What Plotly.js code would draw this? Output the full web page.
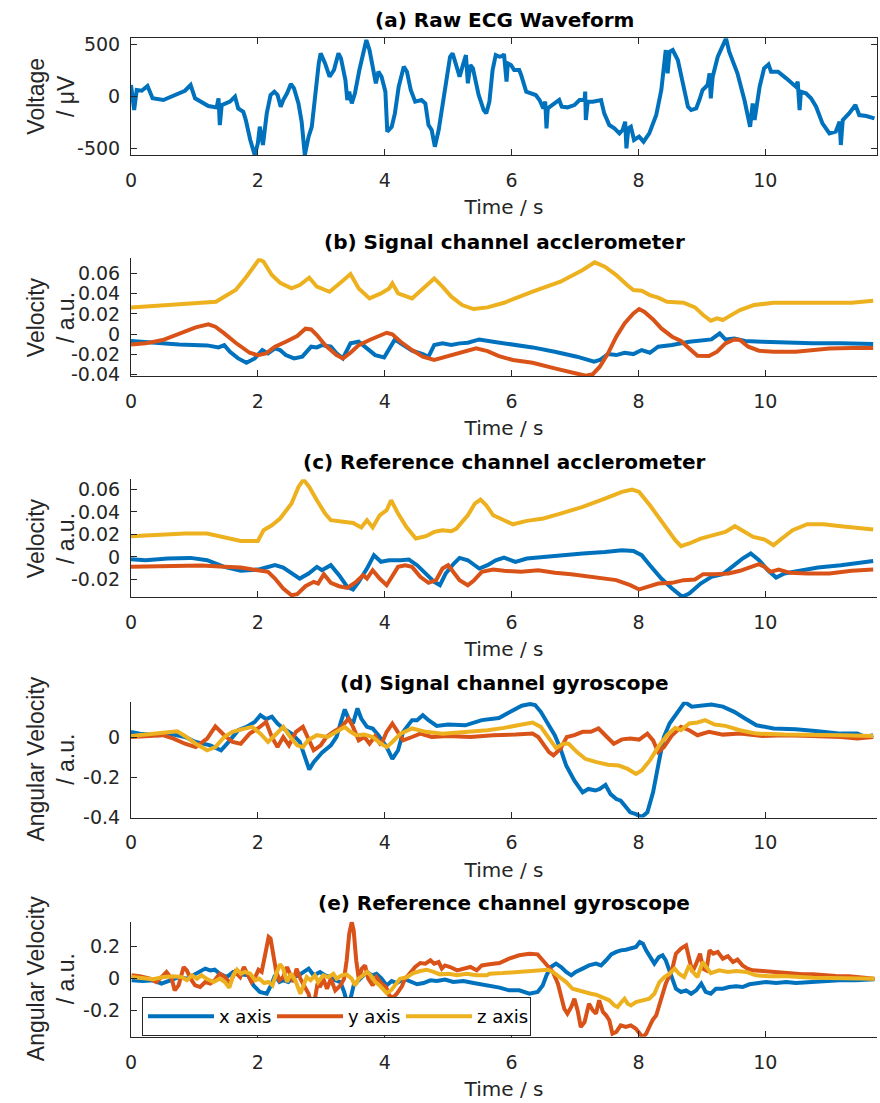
<!DOCTYPE html>
<html>
<head>
<meta charset="utf-8">
<script src="https://cdn.plot.ly/plotly-3.0.1.min.js"></script>
<style>
  html, body { margin: 0; padding: 0; background: #ffffff; }
  #chart { width: 880px; height: 1103px; }
</style>
</head>
<body>
<div id="chart"></div>
<script>
// ---------------- DATA (time in s, value) ----------------
const panelTitles = [
  "(a) Raw ECG Waveform",
  "(b) Signal channel acclerometer",
  "(c) Reference channel acclerometer",
  "(d) Signal channel gyroscope",
  "(e) Reference channel gyroscope"
];
const yLabels = ["Voltage<br>/ \u03bcV", "Velocity<br>/ a.u.", "Velocity<br>/ a.u.", "Angular Velocity<br>/ a.u.", "Angular Velocity<br>/ a.u."];
const seriesNames = ["x axis", "y axis", "z axis"];
const xTickVals = [0, 2, 4, 6, 8, 10];
const xTickText = ["0", "2", "4", "6", "8", "10"];
const yTickVals = [[-500, 0, 500], [-0.04, -0.02, 0, 0.02, 0.04, 0.06], [-0.02, 0, 0.02, 0.04, 0.06], [-0.4, -0.2, 0], [-0.2, 0, 0.2]];
const yTickText = [["-500", "0", "500"], ["-0.04", "-0.02", "0", "0.02", "0.04", "0.06"], ["-0.02", "0", "0.02", "0.04", "0.06"], ["-0.4", "-0.2", "0"], ["-0.2", "0", "0.2"]];

// (a) raw ECG
const ecg = [[0,106],[0.05,-135],[0.09,58],[0.17,51],[0.26,96],[0.34,-22],[0.51,-38],[0.80,42],[0.85,51],[0.94,106],[1.01,-22],[1.22,-96],[1.35,-109],[1.38,-22],[1.40,-279],[1.43,-87],[1.56,-54],[1.64,-6],[1.69,-119],[1.77,-151],[1.81,-231],[1.88,-423],[1.95,-567],[2.00,-455],[2.03,-295],[2.08,-471],[2.14,-167],[2.20,10],[2.26,42],[2.31,10],[2.36,-103],[2.40,-38],[2.46,26],[2.52,115],[2.57,74],[2.64,-71],[2.69,-247],[2.74,-567],[2.80,-391],[2.85,-295],[2.90,-6],[2.96,314],[2.99,410],[3.06,314],[3.13,186],[3.20,250],[3.27,410],[3.31,362],[3.38,154],[3.41,-38],[3.44,42],[3.48,-71],[3.53,26],[3.60,250],[3.71,538],[3.76,442],[3.83,218],[3.86,122],[3.90,234],[3.95,186],[4.01,42],[4.04,-343],[4.11,-295],[4.16,-167],[4.22,90],[4.30,282],[4.35,234],[4.41,58],[4.48,-54],[4.58,-38],[4.64,-71],[4.69,-279],[4.74,-327],[4.79,-487],[4.85,-327],[4.93,-6],[5.03,378],[5.07,410],[5.14,250],[5.18,186],[5.24,314],[5.28,394],[5.31,122],[5.35,298],[5.39,266],[5.48,10],[5.56,-135],[5.60,-167],[5.65,-54],[5.70,250],[5.75,394],[5.81,378],[5.86,385],[5.88,404],[5.92,138],[5.94,314],[5.99,298],[6.04,250],[6.12,250],[6.15,202],[6.23,42],[6.30,26],[6.38,10],[6.44,-38],[6.50,-119],[6.53,-54],[6.55,-311],[6.57,-119],[6.65,-87],[6.75,-38],[6.79,-103],[6.88,-109],[6.99,-87],[7.07,-38],[7.15,-38],[7.16,42],[7.17,-231],[7.20,-54],[7.28,-54],[7.36,-38],[7.41,-38],[7.46,-167],[7.54,-279],[7.62,-311],[7.70,-359],[7.75,-327],[7.79,-247],[7.81,-503],[7.84,-311],[7.88,-295],[7.93,-423],[8.01,-391],[8.08,-439],[8.17,-359],[8.28,-183],[8.36,58],[8.41,314],[8.43,442],[8.46,218],[8.49,426],[8.54,442],[8.62,346],[8.70,122],[8.78,-103],[8.83,-135],[8.91,-119],[8.96,-38],[9.01,58],[9.09,106],[9.12,218],[9.14,-22],[9.17,186],[9.25,378],[9.33,490],[9.38,554],[9.43,426],[9.56,218],[9.67,-38],[9.72,-199],[9.76,-295],[9.80,-71],[9.83,-231],[9.85,-151],[9.91,90],[9.98,266],[10.05,304],[10.09,234],[10.20,234],[10.33,170],[10.43,122],[10.48,90],[10.51,138],[10.54,-135],[10.56,42],[10.64,26],[10.72,-22],[10.80,-103],[10.90,-263],[11.01,-359],[11.11,-343],[11.17,-247],[11.19,-471],[11.22,-231],[11.32,-167],[11.42,-87],[11.48,-183],[11.59,-192],[11.72,-215]];

// (b) signal channel accelerometer
const sigAccX = [[0,-0.0069],[0.32,-0.0086],[0.76,-0.0102],[1.20,-0.0112],[1.38,-0.0132],[1.47,-0.0109],[1.56,-0.0175],[1.69,-0.0241],[1.82,-0.0284],[1.95,-0.0241],[2.07,-0.0158],[2.16,-0.0191],[2.27,-0.0142],[2.35,-0.0158],[2.44,-0.0208],[2.57,-0.0241],[2.70,-0.0224],[2.84,-0.0125],[2.93,-0.0132],[3.01,-0.0109],[3.15,-0.0125],[3.24,-0.0191],[3.34,-0.0241],[3.46,-0.0092],[3.59,-0.0076],[3.72,-0.0142],[3.85,-0.0208],[3.99,-0.0231],[4.10,-0.0125],[4.16,-0.0053],[4.25,-0.0092],[4.43,-0.0165],[4.60,-0.0198],[4.69,-0.0224],[4.78,-0.0109],[4.91,-0.0092],[5.05,-0.0109],[5.18,-0.0092],[5.31,-0.0086],[5.49,-0.0053],[5.71,-0.0076],[5.97,-0.0099],[6.33,-0.0132],[6.68,-0.0175],[7.03,-0.0224],[7.30,-0.0274],[7.39,-0.0257],[7.52,-0.0198],[7.65,-0.0208],[7.78,-0.0185],[7.92,-0.0198],[8.05,-0.0158],[8.18,-0.0185],[8.31,-0.0125],[8.53,-0.0109],[8.80,-0.0076],[9.02,-0.0059],[9.15,-0.0053],[9.28,0.0007],[9.37,-0.0053],[9.51,-0.0043],[9.68,-0.0069],[9.95,-0.0076],[10.30,-0.0086],[10.74,-0.0092],[11.19,-0.0092],[11.70,-0.0099]];
const sigAccY = [[0,-0.0102],[0.23,-0.0092],[0.50,-0.0059],[0.76,0.0007],[1.02,0.0066],[1.22,0.0096],[1.33,0.0073],[1.47,0.0007],[1.65,-0.0086],[1.87,-0.0185],[2.00,-0.0208],[2.13,-0.0191],[2.27,-0.0125],[2.44,-0.0076],[2.62,-0.002],[2.75,0.0053],[2.84,0.0046],[2.93,-0.001],[3.06,-0.0109],[3.24,-0.0208],[3.34,-0.0241],[3.46,-0.0185],[3.59,-0.0109],[3.76,-0.0059],[3.94,-0.001],[4.03,0.0013],[4.12,-0.0003],[4.25,-0.0076],[4.43,-0.0158],[4.60,-0.0224],[4.78,-0.0257],[4.91,-0.0234],[5.09,-0.0208],[5.26,-0.0175],[5.44,-0.0142],[5.62,-0.0168],[5.80,-0.0218],[6.02,-0.0257],[6.33,-0.0284],[6.68,-0.034],[6.94,-0.0383],[7.17,-0.0413],[7.28,-0.0396],[7.39,-0.0323],[7.52,-0.0191],[7.65,-0.0026],[7.78,0.0106],[7.92,0.0205],[8.01,0.0248],[8.09,0.0221],[8.23,0.0145],[8.36,0.0056],[8.53,-0.0026],[8.67,-0.0069],[8.80,-0.0142],[8.93,-0.0215],[9.11,-0.0218],[9.24,-0.0175],[9.37,-0.0092],[9.51,-0.0053],[9.60,-0.0059],[9.73,-0.0125],[9.90,-0.0165],[10.13,-0.0175],[10.48,-0.0175],[10.74,-0.0158],[11.01,-0.0142],[11.36,-0.0139],[11.70,-0.0139]];
const sigAccZ = [[0,0.0264],[0.58,0.0287],[1.34,0.032],[1.47,0.037],[1.65,0.0436],[1.82,0.0568],[2.02,0.074],[2.09,0.0716],[2.22,0.0584],[2.35,0.0508],[2.53,0.0452],[2.66,0.0485],[2.81,0.0558],[2.93,0.0469],[3.04,0.0436],[3.13,0.0419],[3.32,0.0518],[3.46,0.0594],[3.59,0.0452],[3.76,0.0353],[3.94,0.0403],[4.07,0.0452],[4.12,0.0502],[4.21,0.0403],[4.43,0.0353],[4.60,0.0452],[4.78,0.0551],[4.91,0.0469],[5.05,0.037],[5.22,0.0287],[5.40,0.0248],[5.62,0.0264],[5.88,0.031],[6.33,0.0419],[6.77,0.0518],[7.12,0.0634],[7.31,0.071],[7.47,0.0667],[7.65,0.0584],[7.82,0.0485],[7.92,0.0436],[8.05,0.0429],[8.18,0.0386],[8.31,0.036],[8.45,0.032],[8.71,0.031],[8.89,0.0264],[9.02,0.0188],[9.14,0.0132],[9.24,0.0155],[9.33,0.0139],[9.40,0.0165],[9.60,0.0238],[9.82,0.0287],[10.13,0.031],[10.57,0.031],[11.01,0.0312],[11.36,0.031],[11.70,0.033]];

// (c) reference channel accelerometer
const refAccX = [[0,-0.0021],[0.23,-0.003],[0.58,-0.0015],[0.94,-0.0009],[1.2,-0.003],[1.47,-0.0089],[1.73,-0.0124],[2.0,-0.0113],[2.13,-0.0095],[2.27,-0.0074],[2.40,-0.0095],[2.53,-0.0148],[2.66,-0.0193],[2.80,-0.0148],[2.93,-0.0089],[3.01,-0.0119],[3.15,-0.0074],[3.28,-0.0163],[3.41,-0.0267],[3.50,-0.029],[3.59,-0.0222],[3.72,-0.0104],[3.83,0.0015],[3.94,-0.0044],[4.07,-0.003],[4.25,-0.003],[4.38,-0.0024],[4.51,-0.0074],[4.65,-0.0148],[4.78,-0.0222],[4.87,-0.0252],[4.96,-0.0148],[5.09,-0.0059],[5.18,-0.0009],[5.31,-0.003],[5.49,-0.0104],[5.62,-0.0074],[5.75,-0.003],[5.88,-0.0006],[6.06,-0.0044],[6.24,-0.0015],[6.50,0],[6.77,0.0015],[7.12,0.003],[7.47,0.0044],[7.74,0.0059],[7.92,0.0053],[8.05,0.0015],[8.18,-0.0074],[8.36,-0.0193],[8.53,-0.0281],[8.69,-0.0356],[8.80,-0.0326],[8.98,-0.0237],[9.15,-0.0178],[9.33,-0.0154],[9.51,-0.0074],[9.64,-0.0015],[9.77,0.003],[9.90,-0.003],[10.04,-0.0119],[10.17,-0.0184],[10.30,-0.0148],[10.57,-0.0119],[10.83,-0.0095],[11.19,-0.0074],[11.45,-0.0053],[11.70,-0.0036]];
const refAccY = [[0,-0.0089],[0.41,-0.0083],[0.76,-0.0077],[1.11,-0.0077],[1.47,-0.0089],[1.73,-0.0095],[2.0,-0.0119],[2.16,-0.0133],[2.27,-0.0193],[2.40,-0.0281],[2.53,-0.0341],[2.62,-0.0332],[2.75,-0.0261],[2.88,-0.0222],[2.95,-0.0237],[3.04,-0.0154],[3.15,-0.0231],[3.28,-0.0261],[3.41,-0.0276],[3.55,-0.0222],[3.66,-0.0163],[3.72,-0.0193],[3.81,-0.0119],[3.92,-0.0193],[4.03,-0.0252],[4.12,-0.0178],[4.21,-0.0089],[4.32,-0.0074],[4.43,-0.0089],[4.56,-0.0178],[4.69,-0.0231],[4.81,-0.0207],[4.91,-0.0104],[5.0,-0.0074],[5.09,-0.0142],[5.18,-0.0207],[5.31,-0.0252],[5.40,-0.0213],[5.53,-0.0133],[5.71,-0.0113],[5.88,-0.0124],[6.15,-0.0133],[6.42,-0.0119],[6.68,-0.0142],[6.94,-0.0154],[7.30,-0.0178],[7.65,-0.0207],[7.87,-0.0252],[8.01,-0.029],[8.14,-0.0267],[8.31,-0.0237],[8.53,-0.0231],[8.71,-0.0207],[8.89,-0.0201],[9.02,-0.0154],[9.20,-0.0154],[9.42,-0.0148],[9.60,-0.0124],[9.77,-0.0089],[9.90,-0.0065],[9.99,-0.0089],[10.08,-0.0133],[10.21,-0.0113],[10.39,-0.0142],[10.66,-0.0148],[11.01,-0.0148],[11.36,-0.0124],[11.70,-0.0113]];
const refAccZ = [[0,0.0184],[0.50,0.0199],[0.85,0.0207],[1.2,0.0207],[1.47,0.0172],[1.73,0.0142],[2.0,0.0142],[2.09,0.0237],[2.22,0.0281],[2.35,0.0341],[2.53,0.0474],[2.64,0.0622],[2.72,0.0687],[2.81,0.0622],[2.93,0.0504],[3.06,0.0385],[3.15,0.0326],[3.32,0.0311],[3.50,0.0302],[3.63,0.0261],[3.72,0.0326],[3.81,0.0261],[3.92,0.037],[4.03,0.0415],[4.10,0.0504],[4.21,0.0385],[4.34,0.0267],[4.49,0.0163],[4.65,0.0184],[4.78,0.0222],[4.91,0.0237],[5.05,0.0228],[5.13,0.0252],[5.22,0.0311],[5.31,0.037],[5.42,0.0474],[5.51,0.051],[5.60,0.0459],[5.71,0.037],[5.88,0.0326],[6.02,0.029],[6.24,0.032],[6.50,0.0341],[6.77,0.0385],[7.12,0.0444],[7.47,0.0519],[7.74,0.0578],[7.90,0.0599],[8.01,0.0578],[8.18,0.0459],[8.40,0.0281],[8.58,0.0148],[8.67,0.0095],[8.80,0.0119],[8.98,0.0163],[9.20,0.0193],[9.37,0.0222],[9.52,0.0273],[9.64,0.0237],[9.81,0.0178],[9.99,0.0154],[10.13,0.0104],[10.26,0.0163],[10.43,0.0237],[10.66,0.029],[10.92,0.029],[11.19,0.0273],[11.45,0.0261],[11.70,0.0243]];

// (d) signal channel gyroscope
const sigGyrX = [[0,0.03],[0.14,0.021],[0.41,0.013],[0.67,0.016],[0.85,0.004],[1.02,-0.021],[1.25,-0.038],[1.42,-0.063],[1.56,-0.013],[1.69,0.038],[1.82,0.055],[1.95,0.08],[2.04,0.114],[2.13,0.094],[2.22,0.106],[2.31,0.072],[2.40,0.047],[2.53,0.021],[2.66,-0.021],[2.75,-0.106],[2.81,-0.16],[2.88,-0.123],[3.01,-0.075],[3.15,-0.038],[3.24,0.004],[3.31,0.08],[3.37,0.143],[3.43,0.097],[3.50,0.072],[3.57,0.148],[3.63,0.097],[3.72,0.055],[3.81,0.047],[3.90,0.013],[4.03,-0.047],[4.12,-0.106],[4.21,-0.063],[4.29,0.03],[4.43,0.089],[4.51,0.089],[4.60,0.114],[4.69,0.089],[4.82,0.06],[5.0,0.067],[5.27,0.063],[5.53,0.089],[5.80,0.1],[5.98,0.131],[6.16,0.162],[6.29,0.17],[6.37,0.165],[6.46,0.131],[6.57,0.072],[6.68,0.013],[6.77,-0.055],[6.86,-0.14],[6.99,-0.216],[7.12,-0.275],[7.21,-0.258],[7.32,-0.266],[7.39,-0.258],[7.48,-0.238],[7.56,-0.284],[7.65,-0.309],[7.72,-0.317],[7.78,-0.343],[7.87,-0.376],[7.96,-0.385],[8.05,-0.40],[8.14,-0.376],[8.23,-0.275],[8.31,-0.14],[8.40,0.004],[8.49,0.072],[8.62,0.131],[8.73,0.18],[8.84,0.157],[8.98,0.162],[9.15,0.168],[9.33,0.157],[9.51,0.131],[9.68,0.097],[9.86,0.063],[10.13,0.047],[10.48,0.043],[10.83,0.033],[11.19,0.021],[11.45,0.021],[11.58,0.004],[11.70,0.013]];
const sigGyrY = [[0,0.004],[0.23,0.008],[0.50,0.013],[0.67,-0.004],[0.85,-0.03],[1.02,-0.047],[1.20,-0.004],[1.33,0.058],[1.47,0.013],[1.60,-0.021],[1.73,-0.03],[1.87,0.021],[2.0,0.047],[2.13,0.08],[2.22,0.004],[2.31,-0.047],[2.40,0.004],[2.49,-0.038],[2.60,0.03],[2.71,0.055],[2.79,-0.004],[2.88,-0.063],[2.99,-0.038],[3.08,0.004],[3.19,0.03],[3.32,0.055],[3.43,0.097],[3.50,0.055],[3.59,-0.013],[3.68,0.004],[3.76,-0.03],[3.85,0.009],[3.94,-0.038],[4.03,0.03],[4.12,0.072],[4.21,0.03],[4.29,-0.013],[4.43,0.004],[4.56,0.021],[4.74,0.004],[5.0,0.009],[5.35,0.004],[5.71,0.013],[6.06,0.016],[6.33,0.021],[6.42,0.004],[6.50,-0.03],[6.59,-0.072],[6.66,-0.089],[6.77,-0.055],[6.87,0.004],[6.99,0.013],[7.12,0.03],[7.25,0.03],[7.37,0.047],[7.48,0.013],[7.61,-0.03],[7.74,-0.008],[7.87,-0.004],[8.01,-0.009],[8.14,0.021],[8.23,-0.013],[8.31,-0.072],[8.40,-0.047],[8.53,0.013],[8.67,0.055],[8.80,0.038],[8.93,0.013],[9.11,0.03],[9.33,0.016],[9.60,0.021],[9.95,0.009],[10.30,0.013],[10.74,0.009],[11.19,0.004],[11.45,-0.004],[11.70,0.004]];
const sigGyrZ = [[0,0.009],[0.23,0.016],[0.50,0.021],[0.73,0.033],[0.85,0.009],[1.02,-0.03],[1.20,-0.063],[1.33,-0.047],[1.47,0.004],[1.60,0.03],[1.73,0.041],[1.91,0.055],[2.04,0.021],[2.16,-0.021],[2.27,0.013],[2.40,0.055],[2.51,0.004],[2.62,-0.038],[2.71,-0.047],[2.79,-0.013],[2.93,0.013],[3.10,0.004],[3.24,0.03],[3.37,0.055],[3.46,0.03],[3.55,0.013],[3.68,0.016],[3.81,0.004],[3.92,-0.025],[4.03,-0.047],[4.12,-0.021],[4.25,0.021],[4.43,0.047],[4.65,0.03],[4.91,0.021],[5.27,0.03],[5.62,0.038],[5.88,0.05],[6.16,0.067],[6.33,0.077],[6.46,0.055],[6.59,-0.004],[6.70,-0.052],[6.81,-0.03],[6.90,-0.03],[7.03,-0.072],[7.16,-0.106],[7.34,-0.123],[7.52,-0.136],[7.69,-0.14],[7.83,-0.157],[7.96,-0.182],[8.05,-0.165],[8.18,-0.114],[8.31,-0.047],[8.45,0.013],[8.58,0.05],[8.67,0.038],[8.80,0.072],[8.93,0.077],[9.05,0.089],[9.20,0.067],[9.37,0.06],[9.60,0.038],[9.86,0.021],[10.30,0.016],[10.74,0.016],[11.19,0.013],[11.70,0.009]];

// (e) reference channel gyroscope
const refGyrX = [[0.01,-0.01],[0.19,-0.015],[0.35,-0.01],[0.48,-0.031],[0.62,-0.01],[0.75,0.01],[0.88,0],[0.98,0.021],[1.09,0.042],[1.17,0.063],[1.25,0.052],[1.32,0.056],[1.40,0.031],[1.51,0.01],[1.61,0.042],[1.72,0.027],[1.85,0.021],[1.93,-0.042],[2.03,-0.083],[2.14,-0.094],[2.22,-0.031],[2.27,0.021],[2.34,-0.021],[2.40,-0.01],[2.48,-0.021],[2.56,0.01],[2.64,0.021],[2.72,0.042],[2.80,0.063],[2.88,0.021],[2.98,0.042],[3.06,0.021],[3.14,0.01],[3.22,-0.01],[3.30,-0.021],[3.36,-0.083],[3.41,-0.156],[3.46,-0.125],[3.51,-0.042],[3.56,-0.021],[3.64,0.01],[3.72,0.042],[3.80,0.021],[3.87,0.031],[3.95,0],[4.03,-0.042],[4.11,-0.015],[4.19,-0.027],[4.30,0],[4.40,-0.015],[4.51,-0.035],[4.61,-0.027],[4.72,-0.01],[4.82,-0.015],[4.95,-0.006],[5.08,-0.021],[5.24,-0.015],[5.40,-0.027],[5.53,-0.035],[5.65,-0.042],[5.81,-0.056],[5.96,-0.073],[6.12,-0.073],[6.28,-0.094],[6.41,-0.083],[6.49,-0.042],[6.55,0.021],[6.62,0.073],[6.70,0.094],[6.78,0.073],[6.86,0.042],[6.94,0.021],[7.01,0.042],[7.12,0.063],[7.22,0.083],[7.33,0.094],[7.41,0.083],[7.49,0.115],[7.57,0.152],[7.65,0.167],[7.72,0.177],[7.80,0.181],[7.88,0.188],[7.96,0.198],[8.02,0.229],[8.07,0.219],[8.12,0.177],[8.17,0.146],[8.25,0.094],[8.32,0.135],[8.38,0.146],[8.43,0.115],[8.51,0.021],[8.59,-0.063],[8.67,-0.083],[8.75,-0.073],[8.83,-0.094],[8.91,-0.073],[8.99,-0.031],[9.06,-0.083],[9.14,-0.094],[9.22,-0.063],[9.33,-0.063],[9.43,-0.052],[9.54,-0.048],[9.64,-0.052],[9.75,-0.035],[9.85,-0.031],[10.01,-0.021],[10.17,-0.027],[10.33,-0.021],[10.48,-0.027],[10.69,-0.021],[10.90,-0.015],[11.17,-0.01],[11.43,-0.01],[11.72,-0.004]];
const refGyrY = [[0.01,0.021],[0.14,0.015],[0.30,0],[0.40,-0.021],[0.48,0.01],[0.56,0.042],[0.64,0],[0.69,-0.073],[0.75,-0.042],[0.83,0.073],[0.88,0.052],[0.94,0],[1.01,-0.042],[1.09,-0.052],[1.17,-0.021],[1.25,-0.031],[1.32,-0.01],[1.40,0.031],[1.48,0.01],[1.56,-0.031],[1.64,0.042],[1.72,0.01],[1.78,0.073],[1.85,0.021],[1.90,-0.021],[1.96,0.01],[2.01,0.056],[2.06,0.042],[2.11,0.156],[2.17,0.26],[2.20,0.25],[2.24,0.146],[2.29,0.042],[2.34,-0.01],[2.40,0.01],[2.46,0.073],[2.51,0.031],[2.56,-0.021],[2.61,0.063],[2.67,0],[2.74,-0.052],[2.80,-0.094],[2.85,-0.177],[2.90,-0.125],[2.94,-0.031],[2.98,-0.052],[3.03,0],[3.09,-0.063],[3.15,0],[3.22,-0.073],[3.30,-0.042],[3.36,0],[3.40,0.115],[3.44,0.281],[3.48,0.354],[3.51,0.302],[3.55,0.115],[3.59,0],[3.64,0.063],[3.69,0.083],[3.74,0],[3.81,-0.042],[3.87,0.01],[3.95,-0.031],[4.02,-0.052],[4.07,-0.104],[4.13,-0.119],[4.19,-0.094],[4.27,-0.048],[4.32,0],[4.37,0.021],[4.43,0.052],[4.48,0.073],[4.56,0.098],[4.64,0.094],[4.72,0.115],[4.78,0.094],[4.85,0.104],[4.90,0.063],[4.95,0.083],[5.03,0.073],[5.14,0.052],[5.24,0.063],[5.35,0.073],[5.45,0.052],[5.53,0.083],[5.65,0.09],[5.81,0.098],[5.96,0.125],[6.12,0.146],[6.28,0.156],[6.41,0.152],[6.49,0.115],[6.57,0.083],[6.65,0.042],[6.73,-0.031],[6.78,-0.115],[6.83,-0.188],[6.88,-0.219],[6.94,-0.177],[6.99,-0.125],[7.04,-0.198],[7.09,-0.302],[7.15,-0.271],[7.22,-0.156],[7.28,-0.198],[7.33,-0.219],[7.38,-0.135],[7.44,-0.208],[7.49,-0.229],[7.54,-0.26],[7.59,-0.344],[7.65,-0.333],[7.72,-0.292],[7.80,-0.302],[7.88,-0.292],[7.96,-0.313],[8.04,-0.354],[8.08,-0.36],[8.12,-0.344],[8.17,-0.302],[8.22,-0.26],[8.28,-0.229],[8.33,-0.156],[8.38,-0.083],[8.43,-0.031],[8.49,0.021],[8.54,0.073],[8.59,0.156],[8.67,0.188],[8.75,0.208],[8.80,0.115],[8.85,0.042],[8.91,0.094],[8.97,0.156],[9.02,0.063],[9.07,0.052],[9.12,0.177],[9.18,0.156],[9.25,0.167],[9.33,0.125],[9.41,0.14],[9.49,0.104],[9.56,0.119],[9.64,0.083],[9.72,0.063],[9.80,0.052],[9.96,0.048],[10.12,0.042],[10.27,0.035],[10.43,0.031],[10.59,0.027],[10.75,0.027],[10.90,0.021],[11.11,0.017],[11.32,0.015],[11.53,0.006],[11.72,0]];
const refGyrZ = [[0.01,0.01],[0.19,0],[0.35,-0.004],[0.51,0.01],[0.67,0.015],[0.80,0.01],[0.88,-0.01],[0.96,0.021],[1.04,0],[1.11,0.021],[1.19,0],[1.30,-0.021],[1.40,0],[1.48,-0.021],[1.55,-0.056],[1.61,0.021],[1.67,0.056],[1.73,0.031],[1.80,0.042],[1.88,0.031],[1.96,-0.01],[2.02,0],[2.10,-0.027],[2.17,-0.021],[2.23,-0.042],[2.30,0.042],[2.35,0.09],[2.40,0.063],[2.46,-0.021],[2.52,0.031],[2.59,-0.01],[2.67,-0.094],[2.72,-0.042],[2.77,0.01],[2.83,-0.01],[2.90,0.021],[2.95,-0.021],[3.03,0.021],[3.11,0.01],[3.19,0.031],[3.24,0],[3.32,0.021],[3.40,0.027],[3.48,0],[3.53,-0.042],[3.59,0],[3.66,0.021],[3.72,0.042],[3.78,0.021],[3.85,-0.021],[3.92,-0.042],[3.98,-0.073],[4.03,-0.09],[4.10,-0.073],[4.16,-0.042],[4.24,0],[4.35,0.01],[4.45,0.035],[4.56,0.048],[4.66,0.056],[4.77,0.042],[4.87,0.027],[5.01,0.031],[5.14,0.021],[5.29,0.031],[5.45,0.021],[5.61,0.021],[5.65,0.031],[5.86,0.035],[6.07,0.042],[6.28,0.048],[6.44,0.052],[6.57,0.056],[6.65,0.042],[6.75,0.01],[6.86,-0.021],[6.96,-0.063],[7.04,-0.073],[7.15,-0.083],[7.25,-0.094],[7.33,-0.1],[7.44,-0.115],[7.54,-0.135],[7.62,-0.167],[7.67,-0.177],[7.72,-0.152],[7.78,-0.125],[7.83,-0.156],[7.88,-0.167],[7.96,-0.146],[8.07,-0.135],[8.17,-0.125],[8.25,-0.094],[8.33,-0.021],[8.41,0.01],[8.49,0.031],[8.57,0.063],[8.64,0.031],[8.72,0.01],[8.80,0.083],[8.86,0.042],[8.93,0.01],[9.01,0.104],[9.08,0.063],[9.14,0.035],[9.27,0.052],[9.41,0.042],[9.54,0.048],[9.70,0.042],[9.85,0.021],[10.06,0.015],[10.27,0.017],[10.48,0.01],[10.75,0.006],[11.01,0.004],[11.32,0.004],[11.72,0]];

const yRanges = [[-567, 555], [-0.0415, 0.075], [-0.0357, 0.069], [-0.402, 0.182], [-0.3625, 0.356]];
const xRange = [0, 11.76];

// ---------------- STYLE / LAYOUT ----------------
const W = 880, H = 1103;
const colors = ["#0072BD", "#D95319", "#EDB120"];
const FONT_H = "'DejaVu Sans', 'Liberation Sans', Arial, sans-serif";     // horizontal text
const FONT_V = "'Liberation Sans', Arial, Helvetica, sans-serif";         // rotated y labels
const TXT = "#262626";
const panelPx = [[38.3, 155], [258.3, 376], [479.3, 597], [701.7, 817.5], [921.7, 1036.7]];
const titlePx = [20, 242, 462, 683, 903];
const plotLeft = 131, plotRight = 877;

const panels = [[ecg], [sigAccX, sigAccY, sigAccZ], [refAccX, refAccY, refAccZ], [sigGyrX, sigGyrY, sigGyrZ], [refGyrX, refGyrY, refGyrZ]];

const traces = [];
panels.forEach((series, p) => {
  series.forEach((s, k) => {
    traces.push({
      type: "scatter",
      mode: "lines",
      x: s.map(d => d[0]),
      y: s.map(d => d[1]),
      xaxis: p === 0 ? "x" : "x" + (p + 1),
      yaxis: p === 0 ? "y" : "y" + (p + 1),
      name: seriesNames[k],
      showlegend: p === 4,
      line: { color: colors[k], width: 4 },
      hoverinfo: "skip"
    });
  });
});

const layout = {
  width: W, height: H,
  margin: { l: 0, r: 0, t: 0, b: 0 },
  paper_bgcolor: "#ffffff",
  plot_bgcolor: "#ffffff",
  font: { family: FONT_H, color: TXT, size: 19 },
  showlegend: true,
  legend: {
    orientation: "h",
    x: 142 / W, xanchor: "left",
    y: 1 - 1036 / H, yanchor: "bottom",
    bgcolor: "#ffffff",
    bordercolor: TXT, borderwidth: 1,
    font: { family: FONT_H, size: 18, color: "#000000" },
    itemwidth: 66,
    entrywidth: 48,
    traceorder: "normal"
  },
  annotations: []
};

panels.forEach((_, p) => {
  const sfx = p === 0 ? "" : String(p + 1);
  const [top, bot] = panelPx[p];
  layout["xaxis" + sfx] = {
    domain: [plotLeft / W, plotRight / W],
    anchor: "y" + sfx,
    range: xRange,
    tickmode: "array", tickvals: xTickVals, ticktext: xTickText,
    ticks: "inside", ticklen: 6, tickwidth: 1, tickcolor: TXT,
    showline: true, linecolor: TXT, linewidth: 1,
    mirror: p === 0 ? "ticks" : false,
    showgrid: false, zeroline: false,
    tickfont: { family: FONT_H, size: 19, color: TXT },
    ticklabelstandoff: 8,
    automargin: false,
    title: { text: "Time / s", font: { family: FONT_H, size: 20, color: TXT }, standoff: 10 }
  };
  layout["yaxis" + sfx] = {
    domain: [1 - bot / H, 1 - top / H],
    anchor: "x" + sfx,
    range: yRanges[p],
    tickmode: "array", tickvals: yTickVals[p], ticktext: yTickText[p],
    ticks: "inside", ticklen: 6, tickwidth: 1, tickcolor: TXT,
    showline: true, linecolor: TXT, linewidth: 1,
    mirror: p === 0 ? "ticks" : false,
    showgrid: false, zeroline: false,
    tickfont: { family: FONT_H, size: 19, color: TXT },
    ticklabelstandoff: 6,
    automargin: false
  };
  layout.annotations.push({
    xref: "paper", yref: "paper",
    x: (plotLeft + plotRight) / 2 / W, y: 1 - titlePx[p] / H,
    xanchor: "center", yanchor: "middle",
    text: "<b>" + panelTitles[p] + "</b>",
    showarrow: false,
    font: { family: FONT_H, size: 20, color: "#000000" }
  });
  layout.annotations.push({
    xref: "paper", yref: "paper",
    x: 51 / W, y: 1 - (top + bot) / 2 / H,
    xanchor: "center", yanchor: "middle",
    textangle: -90,
    text: yLabels[p],
    showarrow: false,
    font: { family: FONT_V, size: 23, color: TXT }
  });
});

Plotly.newPlot("chart", traces, layout, { staticPlot: true, displayModeBar: false });
</script>
</body>
</html>
